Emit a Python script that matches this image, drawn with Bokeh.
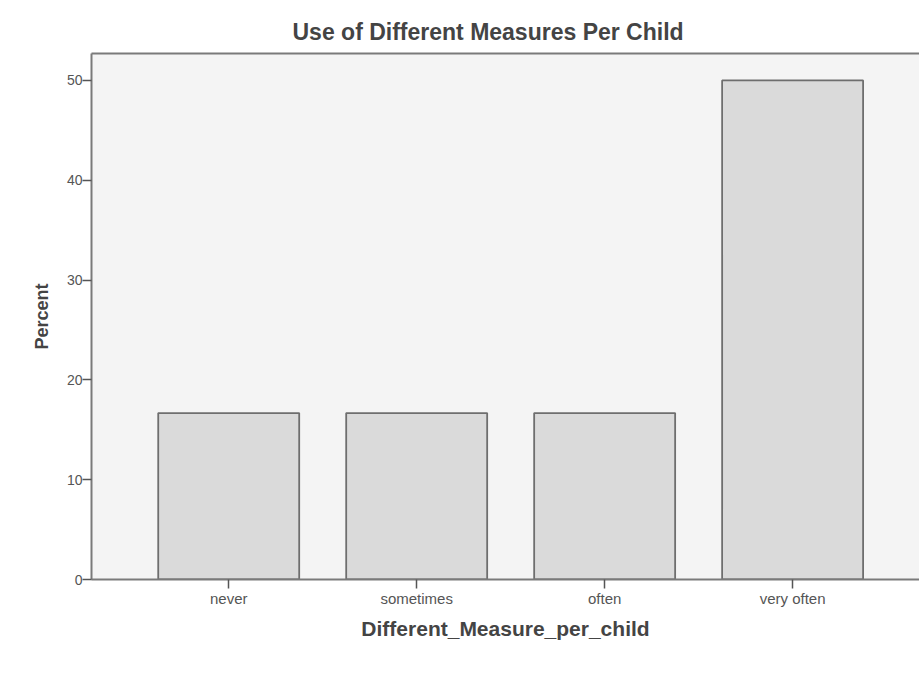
from bokeh.plotting import figure
from bokeh.models import LinearAxis, FixedTicker, Range1d, ColumnDataSource
from bokeh.embed import file_html
from bokeh.resources import INLINE

categories = ["never", "sometimes", "often", "very often"]
percent = [16.67, 16.67, 16.67, 50.0]
y_ticks = [0, 10, 20, 30, 40, 50]

positions = list(range(len(categories)))
src = ColumnDataSource(dict(x=positions, top=percent, cat=categories))

FONT = "Liberation Sans"
AX = "#7a7a7a"
TXT = "#555555"

p = figure(width=919, height=690, output_backend="svg", toolbar_location=None,
           x_range=Range1d(-0.73, 3.675), y_range=Range1d(0, 52.7),
           min_border_left=91, min_border_right=0, min_border_top=53,
           min_border_bottom=111, frame_width=828, frame_height=526,
           title="Use of Different Measures Per Child")

p.background_fill_color = "#f4f4f4"
p.border_fill_color = "white"
p.outline_line_color = None
p.grid.visible = False

p.title.align = "left"
p.title.text_font = FONT
p.title.text_font_size = "23px"
p.title.text_font_style = "bold"
p.title.text_color = "#444444"
p.title.standoff = 18
p.title.offset = 201

p.vbar(x="x", top="top", width=0.75, bottom=0, source=src,
       fill_color="#dadada", line_color="#6e6e6e", line_width=1.8)

xa = p.xaxis[0]
xa.ticker = FixedTicker(ticks=positions)
xa.major_label_overrides = {i: c for i, c in enumerate(categories)}
xa.axis_label = "Different_Measure_per_child"

ya = p.yaxis[0]
ya.ticker = FixedTicker(ticks=y_ticks)
ya.axis_label = "Percent"

for ax in (xa, ya):
    ax.axis_line_color = AX
    ax.axis_line_width = 2
    ax.major_tick_line_color = "#555555"
    ax.major_tick_line_width = 1.5
    ax.major_tick_in = 0
    ax.major_tick_out = 9
    ax.minor_tick_line_color = None
    ax.major_label_text_font = FONT
    ax.major_label_text_color = TXT
    ax.axis_label_text_font = FONT
    ax.axis_label_text_font_style = "bold"
    ax.axis_label_text_color = "#444444"

xa.major_label_text_font_size = "15px"
ya.major_label_text_font_size = "14px"
xa.axis_label_text_font_size = "21px"
ya.axis_label_text_font_size = "18px"
xa.major_label_standoff = 1
xa.axis_label_standoff = 7
ya.major_label_standoff = 0
ya.axis_label_standoff = 12

top = LinearAxis(ticker=FixedTicker(ticks=[]), axis_line_color=AX, axis_line_width=2,
                 major_tick_out=0, major_tick_in=0, minor_tick_out=0, minor_tick_in=0,
                 major_label_text_font_size="0px", major_label_standoff=0)
p.add_layout(top, "above")

open("out.html", "w").write(file_html(p, INLINE))
